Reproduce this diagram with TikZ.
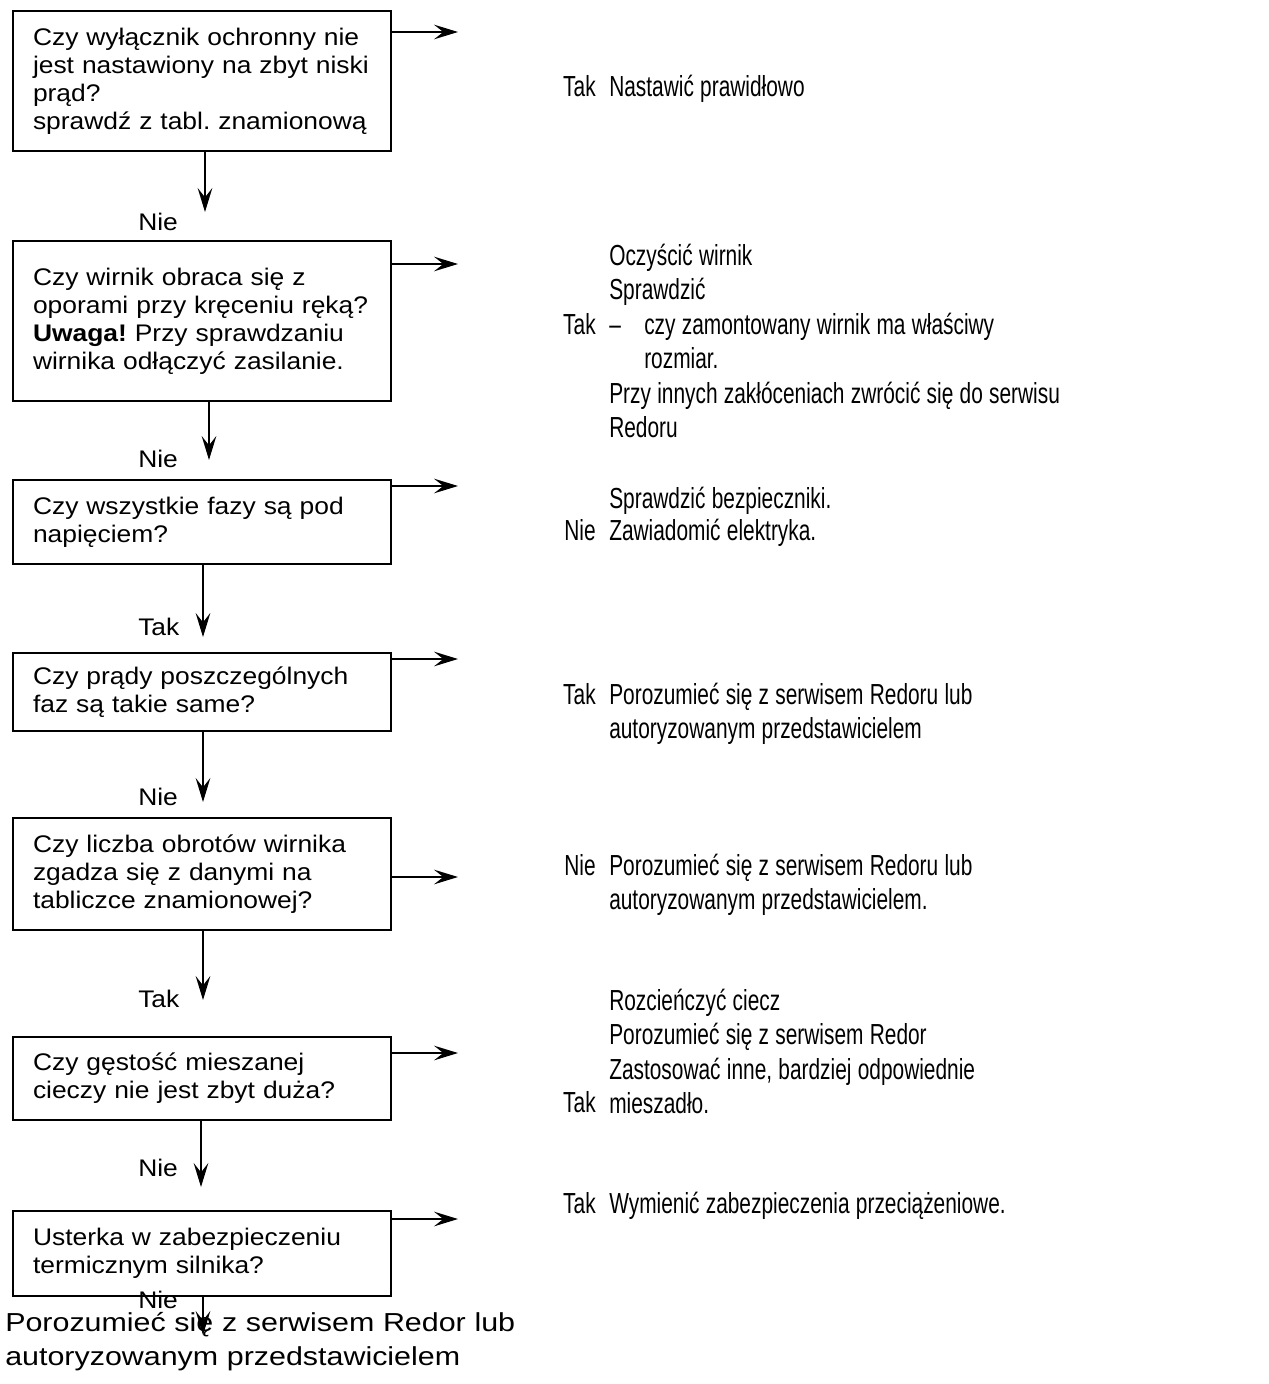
\documentclass[tikz,border=0pt]{standalone}
\usepackage{fontspec}
\setmainfont{Liberation Sans}[FakeStretch=1.1]
\newfontfamily\colfont{Liberation Sans}[FakeStretch=0.72]
\newfontfamily\endfont{Liberation Sans}[FakeStretch=1.17]
\usetikzlibrary{arrows.meta}
\frenchspacing
\tikzset{
  qbox/.style={draw, line width=1.5pt, anchor=north west, text width=253.5pt,
    inner xsep=15pt, inner ysep=0pt, align=left, font=\fontsize{18}{21}\selectfont},
  arr/.style={line width=1.2pt, -{Stealth[length=18pt,width=11pt,inset=7pt]}},
  lbl/.style={anchor=west, inner sep=0pt, font=\fontsize{18}{21}\selectfont},
  ans/.style={anchor=base east, inner sep=0pt, font=\colfont\fontsize{21.75}{25.9}\selectfont},
  todo/.style={anchor=base west, inner sep=0pt, text width=480pt, align=left,
    font=\colfont\fontsize{21.75}{25.9}\selectfont,
    execute at begin node={\spaceskip=4.7pt plus 1pt minus 1pt}},
}
\begin{document}
\begin{tikzpicture}[x=0.75pt,y=-0.75pt]
\useasboundingbox (0,0) rectangle (1268,1384);

% pytania
\node[qbox, minimum height=105pt] (q1) at (12,10) {Czy wyłącznik ochronny nie\\ jest nastawiony na zbyt niski\\ prąd?\\ sprawdź z tabl. znamionową};
\node[qbox, minimum height=120pt] (q2) at (12,240) {Czy wirnik obraca się z\\ oporami przy kręceniu ręką?\\ \textbf{Uwaga!} Przy sprawdzaniu\\ wirnika odłączyć zasilanie.};
\node[qbox, minimum height=63pt] (q3) at (12,479) {Czy wszystkie fazy są pod\\ napięciem?};
\node[qbox, minimum height=58.5pt] (q4) at (12,652) {Czy prądy poszczególnych\\ faz są takie same?};
\node[qbox, minimum height=84pt] (q5) at (12,817) {Czy liczba obrotów wirnika\\ zgadza się z danymi na\\ tabliczce znamionowej?};
\node[qbox, minimum height=62.25pt] (q6) at (12,1036) {Czy gęstość mieszanej\\ cieczy nie jest zbyt duża?};
\node[qbox, minimum height=63.75pt] (q7) at (12,1210) {Usterka w zabezpieczeniu\\ termicznym silnika?};

% strzalki w prawo
\foreach \q/\y in {q1/32, q2/264, q3/486, q4/659, q5/877, q6/1053, q7/1219} {
  \coordinate (r\q) at (458,\y);
  \draw[arr] (\q.east |- r\q) -- (r\q);
}

% strzalki w dol
\foreach \q/\x/\y in {q1/205/212, q2/209/460, q3/203/637, q4/203/802, q5/203/1000, q6/201/1187, q7/203/1335} {
  \coordinate (d\q) at (\x,\y);
  \draw[arr] (\q.south -| d\q) -- (d\q);
}

% odpowiedzi przy strzalkach w dol
\node[lbl] (n1) at (138,222) {Nie};
\node[lbl] (n2) at (138,459) {Nie};
\node[lbl] (n3) at (138,627) {Tak};
\node[lbl] (n4) at (138,797) {Nie};
\node[lbl] (n5) at (138,999) {Tak};
\node[lbl] (n6) at (138,1168) {Nie};
\node[lbl] (n7) at (138,1300) {Nie};

% dzialania po prawej
\node[ans] (t1) at (596,97) {Tak};
\node[todo] (a1) at (609,97) {Nastawić prawidłowo};

\node[ans] (t2) at (596,334) {Tak};
\node[todo] (a2) at (609,265) {Oczyścić wirnik\\ Sprawdzić\\ \makebox[26.25pt][l]{–}czy zamontowany wirnik ma właściwy\\ \hspace*{26.25pt}rozmiar.\\ Przy innych zakłóceniach zwrócić się do serwisu\\ Redoru};

\node[ans] (t3) at (596,540) {Nie};
\node[todo, font=\colfont\fontsize{21.75}{24}\selectfont] (a3) at (609,508) {Sprawdzić bezpieczniki.\\ Zawiadomić elektryka.};

\node[ans] (t4) at (596,704) {Tak};
\node[todo] (a4) at (609,704) {Porozumieć się z serwisem Redoru lub\\ autoryzowanym przedstawicielem};

\node[ans] (t5) at (596,875) {Nie};
\node[todo] (a5) at (609,875) {Porozumieć się z serwisem Redoru lub\\ autoryzowanym przedstawicielem.};

\node[ans] (t6) at (596,1112) {Tak};
\node[todo] (a6) at (609,1010) {Rozcieńczyć ciecz\\ Porozumieć się z serwisem Redor\\ Zastosować inne, bardziej odpowiednie\\ mieszadło.};

\node[ans] (t7) at (596,1213) {Tak};
\node[todo] (a7) at (609,1213) {Wymienić zabezpieczenia przeciążeniowe.};

% koniec
\node[anchor=base west, inner sep=0pt, text width=420pt, align=left,
  font=\endfont\fontsize{19.5}{25.5}\selectfont] (kon) at (5,1331)
  {Porozumieć się z serwisem Redor lub\\ autoryzowanym przedstawicielem};
\end{tikzpicture}
\end{document}
